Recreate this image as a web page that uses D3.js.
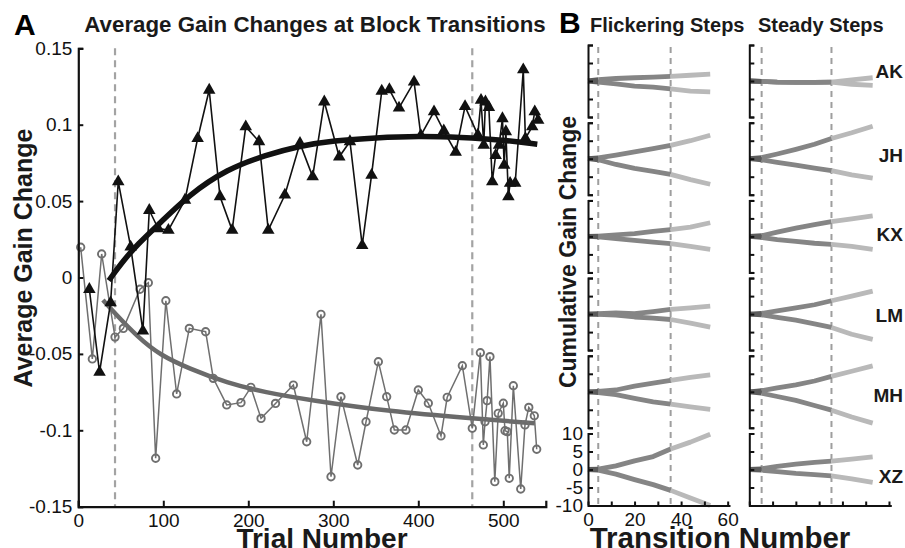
<!DOCTYPE html>
<html><head><meta charset="utf-8">
<script src="https://cdn.jsdelivr.net/npm/d3@7"></script>
<style>
body{margin:0;background:#fff;}
svg{display:block;font-family:"Liberation Sans",Arial,Helvetica,sans-serif;}
</style></head>
<body><svg id="c" width="905" height="548"></svg>
<script>
// ---------- Panel A data ----------
const triX = [13,25,38,47,61.6,76,83.5,94,106,125.5,140.4,154,166.7,181,197,212.6,223.5,243,260.8,275.7,289.4,307,319.6,334,345,357,366,377.3,395,403,418.5,430,444,455,470,473.8,477,479,483,487,491,495,499,501,503,506,508,514,523.5,526,534,537,541];
const triY = [-0.0077,-0.062,-0.0165,0.0627,0.020,-0.035,0.044,0.032,0.031,0.0507,0.091,0.1227,0.053,0.031,0.0987,0.089,0.031,0.054,0.0878,0.066,0.115,0.079,0.089,0.021,0.067,0.122,0.123,0.111,0.128,0.093,0.1085,0.096,0.082,0.112,0.0933,0.116,0.0867,0.115,0.1114,0.0627,0.080,0.0867,0.104,0.0736,0.0955,0.0529,0.0617,0.0617,0.136,0.091,0.0987,0.1085,0.103];
const cirX = [2.8,16.5,27.5,43.2,53,72.6,82.4,91,103,115.7,130.6,149.8,158.8,174.6,191.4,203,215,232,253,268.7,285.5,297.3,309,328.7,338.5,353,362.8,371.8,385.5,400,411.8,426.7,434,451.8,463.5,473,476.5,478.5,481,484.3,490,494,500,502,504.7,507,511.8,520.5,525.5,530,536.5,539.3];
const cirY = [0.0198,-0.0533,0.0154,-0.039,-0.0333,-0.0077,-0.0034,-0.1183,-0.0152,-0.0762,-0.0333,-0.0355,-0.066,-0.0834,-0.0819,-0.0719,-0.0922,-0.0824,-0.0704,-0.1075,-0.0241,-0.1304,-0.078,-0.1227,-0.0944,-0.0551,-0.078,-0.0998,-0.0998,-0.0736,-0.0823,-0.1037,-0.0784,-0.0577,-0.0987,-0.0492,-0.1096,-0.0944,-0.0806,-0.0518,-0.1336,-0.0889,-0.0823,-0.1003,-0.1009,-0.1314,-0.0708,-0.1384,-0.0965,-0.085,-0.0905,-0.1124];
const blackFitX = [36,50,70,96,130,175,220,261,300,350,400,450,500,540];
const blackFitY = [-0.002,0.009,0.022,0.0355,0.054,0.071,0.080,0.0862,0.0895,0.0915,0.0926,0.0918,0.0900,0.0872];
const grayFitX = [29,43,70,96,130,175,220,272,367,463,537];
const grayFitY = [-0.0147,-0.0234,-0.039,-0.0507,-0.0595,-0.0690,-0.0752,-0.0802,-0.0878,-0.0922,-0.0954];
const blockLinesA = [43.2,463.5];
const xTicksA = [0,100,200,300,400,500];
const yTicksA = [-0.15,-0.1,-0.05,0,0.05,0.1,0.15];
const yTickLabelsA = ["-0.15","-0.1","-0.05","0","0.05","0.1","0.15"];

// ---------- Panel B data ----------
const subjects = ["AK","JH","KX","LM","MH","XZ"];
const flickerT = [0,4.4,12,20,28,35.5,44,52.5];
const flickerUp = [
  [0,0.4,0.7,0.9,1.1,1.3,1.6,1.9],
  [0,0.2,1.0,1.9,2.8,3.7,5.0,6.5],
  [0,0.1,0.4,0.8,1.4,1.9,2.6,3.8],
  [0,0.1,0.3,0.1,0.7,1.3,1.7,2.2],
  [0,0.1,0.5,1.6,2.4,3.2,4.0,4.7],
  [0,0.1,1.0,2.4,3.6,5.7,7.6,9.8]];
const flickerDown = [
  [0,-0.3,-0.8,-1.4,-1.7,-2.2,-2.8,-3.0],
  [0,-0.3,-1.6,-2.7,-3.5,-4.35,-5.8,-7.1],
  [0,-0.1,-0.6,-1.1,-1.6,-2.0,-2.8,-3.6],
  [0,-0.1,-0.3,-0.8,-1.1,-1.5,-2.5,-3.6],
  [0,-0.2,-0.8,-1.8,-2.8,-3.4,-4.2,-4.9],
  [0,-0.2,-1.3,-2.8,-4.2,-5.8,-7.9,-10]];
const steadyT = [0,5.3,12,20,28,35.3,44,53];
const steadyUp = [
  [0,-0.1,-0.3,-0.4,-0.4,-0.3,0.3,0.9],
  [0,0.3,1.3,2.6,4.0,5.6,7.2,9.0],
  [0,0.2,1.2,2.3,3.3,4.1,4.9,5.7],
  [0,0.2,0.9,1.7,2.6,3.7,5.0,6.4],
  [0,0.3,1.1,1.9,3.0,4.3,5.7,7.2],
  [0,0.2,0.9,1.5,2.0,2.3,2.9,3.5]];
const steadyDown = [
  [0,-0.1,-0.3,-0.4,-0.4,-0.3,-0.9,-1.2],
  [0,-0.3,-1.0,-1.8,-2.6,-3.3,-4.5,-5.4],
  [0,-0.3,-0.9,-1.4,-1.9,-2.2,-2.8,-3.6],
  [0,-0.2,-0.9,-1.7,-2.7,-3.7,-5.6,-7.0],
  [0,-0.4,-1.3,-2.4,-3.8,-5.1,-7.0,-8.7],
  [0,-0.2,-0.6,-1.1,-1.4,-1.8,-2.6,-3.6]];
const flickerBlocks = [4.4,35.5];
const steadyBlocks = [5.3,35.3];
const yTicksB = [-10,-5,0,5,10];
const xTicksB = [0,10,20,30,40,50,60];

// ---------- drawing ----------
const svg = d3.select("#c");
const FONT = '"Liberation Sans",Arial,Helvetica,sans-serif';

// Panel A
const x = d3.scaleLinear([0,550],[78.3,545.8]);
const y = d3.scaleLinear([-0.15,0.15],[506.7,48.3]);

const gA = svg.append("g");
gA.selectAll("line.blk").data(blockLinesA).join("line")
  .attr("x1",d=>x(d)).attr("x2",d=>x(d)).attr("y1",y(0.15)).attr("y2",y(-0.15))
  .attr("stroke","#a3a3a3").attr("stroke-width",2.2).attr("stroke-dasharray","7,5");

const gray = "#6f6f6f";
const triPts = triX.map((v,i)=>[v,triY[i]]);
const cirPts = cirX.map((v,i)=>[v,cirY[i]]);
const line = d3.line().x(d=>x(d[0])).y(d=>y(d[1]));
const fitLine = d3.line().x(d=>x(d[0])).y(d=>y(d[1])).curve(d3.curveBasis);

gA.append("path").attr("d",line(cirPts)).attr("fill","none").attr("stroke",gray).attr("stroke-width",1.5);
gA.append("path").attr("d",fitLine(grayFitX.map((v,i)=>[v,grayFitY[i]])))
  .attr("fill","none").attr("stroke","#6a6a6a").attr("stroke-width",4.5);
gA.selectAll("circle").data(cirPts).join("circle")
  .attr("cx",d=>x(d[0])).attr("cy",d=>y(d[1])).attr("r",3.7)
  .attr("fill","none").attr("stroke",gray).attr("stroke-width",1.9);

gA.append("path").attr("d",line(triPts)).attr("fill","none").attr("stroke","#111").attr("stroke-width",1.6);
gA.append("path").attr("d",fitLine(blackFitX.map((v,i)=>[v,blackFitY[i]])))
  .attr("fill","none").attr("stroke","#111").attr("stroke-width",5.5);
const tri = d3.symbol().type(d3.symbolTriangle).size(68);
gA.selectAll("path.tri").data(triPts).join("path").attr("class","tri")
  .attr("d",tri).attr("transform",d=>`translate(${x(d[0])},${y(d[1])})`).attr("fill","#111");

// axes A
const axA_y = gA.append("g").attr("transform",`translate(${x(0)},0)`)
  .call(d3.axisLeft(y).tickValues(yTicksA).tickFormat((d,i)=>yTickLabelsA[i]).tickSize(-5).tickSizeOuter(-5).tickPadding(6));
const axA_x = gA.append("g").attr("transform",`translate(0,${y(-0.15)})`)
  .call(d3.axisBottom(x).tickValues(xTicksA).tickFormat(d3.format("d")).tickSize(-6).tickSizeOuter(-6).tickPadding(7));
[axA_y,axA_x].forEach(a=>{
  a.select(".domain").attr("stroke","#111").attr("stroke-width",2.2);
  a.selectAll(".tick line").attr("stroke","#111").attr("stroke-width",2);
  a.selectAll("text").attr("font-size",19).attr("fill","#111").attr("font-family",FONT);
});

// titles A
svg.append("text").attr("x",14).attr("y",35).attr("font-size",30).attr("font-weight","bold").text("A");
svg.append("text").attr("x",315).attr("y",32).attr("text-anchor","middle").attr("font-size",22.3).attr("font-weight","bold")
  .attr("fill","#1a1a1a").text("Average Gain Changes at Block Transitions");
svg.append("text").attr("x",322).attr("y",548).attr("text-anchor","middle").attr("font-size",28).attr("font-weight","bold")
  .attr("fill","#1a1a1a").text("Trial Number");
svg.append("text").attr("transform","translate(32,258) rotate(-90)").attr("text-anchor","middle")
  .attr("font-size",25).attr("font-weight","bold").attr("fill","#1a1a1a").text("Average Gain Change");

// Panel B
const xF = d3.scaleLinear([0,61],[588,730]);
const xS = d3.scaleLinear([0,61],[749.3,891.3]);
const panelTop = i => 45 + 77.7*i;
const panelH = 72;
const labelDy = [-2.7,3,4.3,7.7,10,13.5];
const segColors = ["#5c5c5c","#858585","#b9b9b9"];

const columns = [
  {xs:xF, T:flickerT, up:flickerUp, down:flickerDown, blocks:flickerBlocks, labels:true},
  {xs:xS, T:steadyT, up:steadyUp, down:steadyDown, blocks:steadyBlocks, labels:false}
];
const gB = svg.append("g");
columns.forEach(col=>{
  gB.selectAll(null).data(col.blocks).join("line")
    .attr("x1",d=>col.xs(d)).attr("x2",d=>col.xs(d)).attr("y1",panelTop(0)+2).attr("y2",panelTop(5)+panelH)
    .attr("stroke","#9e9e9e").attr("stroke-width",2).attr("stroke-dasharray","6,5");
  subjects.forEach((s,i)=>{
    const yy = d3.scaleLinear([-10,10],[panelTop(i)+panelH,panelTop(i)]);
    const ln = d3.line().x(d=>col.xs(d[0])).y(d=>yy(d[1]));
    [col.up[i],col.down[i]].forEach(vals=>{
      const pts = col.T.map((t,k)=>[t,vals[k]]);
      const segs = [
        pts.filter(p=>p[0]<=col.blocks[0]),
        pts.filter(p=>p[0]>=col.blocks[0] && p[0]<=col.blocks[1]),
        pts.filter(p=>p[0]>=col.blocks[1])];
      segs.forEach((sg,k)=>{
        gB.append("path").attr("d",ln(sg)).attr("fill","none").attr("stroke",segColors[k])
          .attr("stroke-width",4.8).attr("stroke-linecap","butt").attr("stroke-linejoin","round");
      });
    });
    const showLab = col.labels && i===5;
    const ax = gB.append("g").attr("transform",`translate(${col.xs(0)},0)`)
      .call(d3.axisLeft(yy).tickValues(yTicksB).tickSize(-5).tickSizeOuter(-5).tickPadding(5)
        .tickFormat(d=> showLab ? String(d) : ""));
    ax.select(".domain").attr("stroke","#111").attr("stroke-width",2);
    ax.selectAll(".tick line").attr("stroke","#111").attr("stroke-width",2);
    ax.selectAll("text").attr("font-size",19).attr("fill","#111").attr("font-family",FONT);
    if(!col.labels){
      gB.append("text").attr("x",903).attr("y",yy(0)+labelDy[i]).attr("text-anchor","end")
        .attr("font-size",19).attr("font-weight","bold").attr("fill","#1a1a1a").text(s);
    }
  });
  const bx = gB.append("g").attr("transform",`translate(0,${panelTop(5)+panelH})`)
    .call(d3.axisBottom(col.xs).tickValues(xTicksB).tickSize(-4).tickSizeOuter(0).tickPadding(7)
      .tickFormat(d=> col.labels && d%20===0 ? String(d) : ""));
  bx.select(".domain").attr("stroke","#111").attr("stroke-width",2);
  bx.selectAll(".tick line").attr("stroke","#111").attr("stroke-width",2);
  bx.selectAll("text").attr("font-size",19).attr("fill","#111").attr("font-family",FONT);
});

svg.append("text").attr("x",559).attr("y",33).attr("font-size",30).attr("font-weight","bold").text("B");
svg.append("text").attr("x",590).attr("y",32).attr("font-size",20).attr("font-weight","bold").attr("fill","#1a1a1a").text("Flickering Steps");
svg.append("text").attr("x",758).attr("y",32).attr("font-size",20).attr("font-weight","bold").attr("fill","#1a1a1a").text("Steady Steps");
svg.append("text").attr("x",720).attr("y",548).attr("text-anchor","middle").attr("font-size",29.5).attr("font-weight","bold")
  .attr("fill","#1a1a1a").text("Transition Number");
svg.append("text").attr("transform","translate(576,252) rotate(-90)").attr("text-anchor","middle")
  .attr("font-size",23).attr("font-weight","bold").attr("fill","#1a1a1a").text("Cumulative Gain Change");
</script></body></html>
